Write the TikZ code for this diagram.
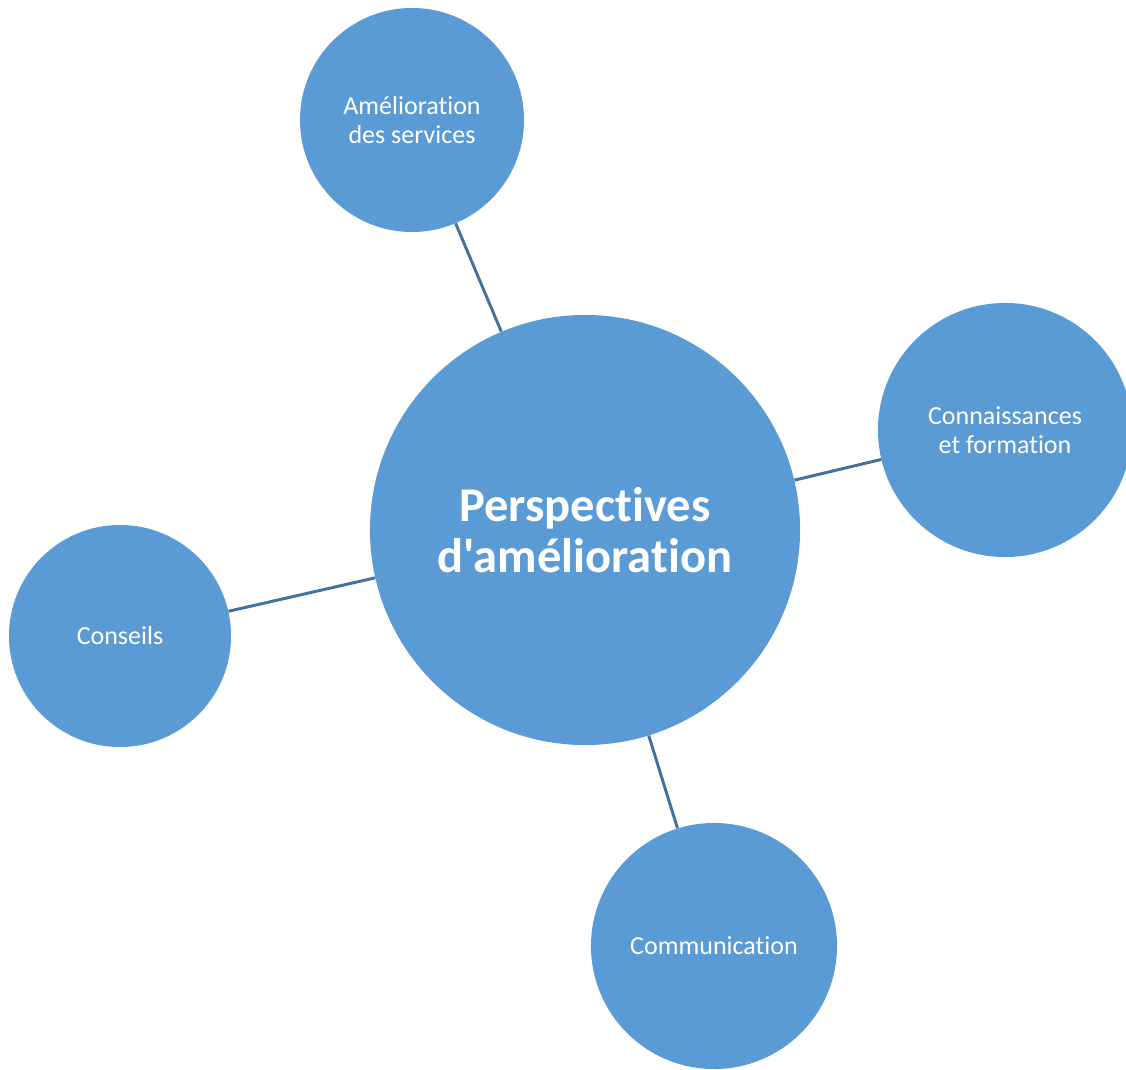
\documentclass[tikz,border=0pt]{standalone}
\usepackage{fontspec}
\setmainfont{Carlito}[Ligatures={NoCommon,TeXOff}]
\usepackage{xcolor}
\definecolor{bubbleblue}{HTML}{5B9BD5}
\definecolor{linkblue}{HTML}{41719C}

\begin{document}
\begin{tikzpicture}[x=0.025cm, y=-0.025cm,
  bubble/.style={circle, fill=bubbleblue, text=white, align=center,
    inner sep=0pt, font=\fontsize{18.5}{20.6}\selectfont},
  link/.style={linkblue, line width=2.1pt}]
  \useasboundingbox (0,0) rectangle (1126,1070);

  % Centre
  \node[bubble, minimum size=10.75cm,
    font=\bfseries\fontsize{34.5}{36.3}\selectfont] (main) at (585,530)
    {Perspectives\\d'amélioration};

  % Outer bubbles
  \node[bubble, minimum size=5.6cm]  (services) at (412,120)  {Amélioration\\des services};
  \node[bubble, minimum size=6.35cm] (training) at (1005,430) {Connaissances\\et formation};
  \node[bubble, minimum size=5.55cm] (advice)   at (120,636)  {Conseils};
  \node[bubble, minimum size=6.15cm] (comms)    at (714,946)  {Communication};

  % Links
  \foreach \n in {services, training, advice, comms} {
    \draw[link] (\n) -- (main);
  }
\end{tikzpicture}
\end{document}
